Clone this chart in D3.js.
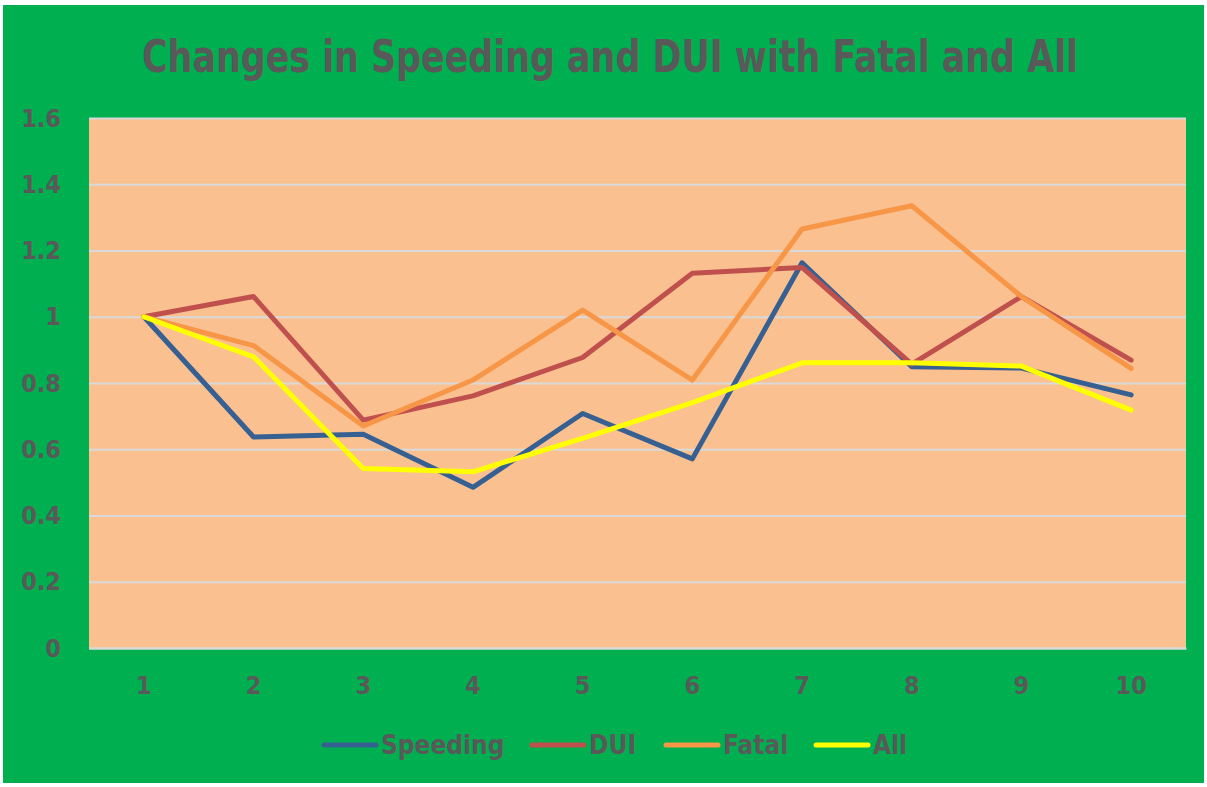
<!DOCTYPE html>
<html>
<head>
<meta charset="utf-8">
<script src="https://cdn.jsdelivr.net/npm/d3@7"></script>
<style>
  body { margin: 0; background: #fff; }
  svg text { font-family: "Liberation Sans Narrow", "DejaVu Sans Condensed", "Roboto", sans-serif; font-weight: bold; fill: #595959; }
</style>
</head>
<body>
<svg width="1207" height="787"></svg>
<script>
const categories = [1, 2, 3, 4, 5, 6, 7, 8, 9, 10];
const speeding = [1.0, 0.637, 0.645, 0.485, 0.708, 0.571, 1.163, 0.849, 0.845, 0.764];
const dui      = [1.0, 1.061, 0.688, 0.761, 0.877, 1.131, 1.149, 0.857, 1.061, 0.869];
const fatal    = [1.0, 0.913, 0.670, 0.809, 1.020, 0.809, 1.265, 1.335, 1.061, 0.844];
const all      = [1.0, 0.879, 0.542, 0.532, 0.633, 0.741, 0.861, 0.861, 0.851, 0.718];
const yTicks = [0, 0.2, 0.4, 0.6, 0.8, 1, 1.2, 1.4, 1.6];
const seriesNames = ["Speeding", "DUI", "Fatal", "All"];
const seriesValues = [speeding, dui, fatal, all];
const seriesColors = ["#376092", "#c0504d", "#f79646", "#ffff00"];

const svg = d3.select("svg"),
      plot = {left: 89, right: 1186, top: 118, bottom: 648};

// green chart background
svg.append("rect")
  .attr("x", 3).attr("y", 5)
  .attr("width", 1201).attr("height", 778)
  .attr("fill", "#00b050");

// title squeezed to the narrow width of the original face
svg.append("text")
  .attr("x", 142)
  .attr("y", 72)
  .attr("textLength", 936)
  .attr("lengthAdjust", "spacingAndGlyphs")
  .style("font-size", "44px")
  .text("Changes in Speeding and DUI with Fatal and All");

const x = d3.scaleBand()
  .domain(categories)
  .range([plot.left, plot.right]);

const y = d3.scaleLinear()
  .domain([0, 1.6])
  .range([plot.bottom, plot.top]);

svg.append("rect")
  .attr("x", plot.left).attr("y", plot.top)
  .attr("width", plot.right - plot.left)
  .attr("height", plot.bottom - plot.top)
  .attr("fill", "#fac090");

// gridlines
svg.append("g")
  .attr("transform", `translate(${plot.left},0)`)
  .call(d3.axisLeft(y).tickValues(yTicks).tickSize(-(plot.right - plot.left)).tickFormat(""))
  .call(g => g.select(".domain").remove())
  .selectAll("line")
  .attr("stroke", "#d9d9d9")
  .attr("stroke-width", 2);

// y tick labels
svg.append("g")
  .attr("transform", `translate(61,0)`)
  .call(d3.axisLeft(y).tickValues(yTicks).tickSize(0).tickPadding(0).tickFormat(d => d3.format("")(d)))
  .call(g => g.select(".domain").remove())
  .selectAll("text")
  .style("font-size", "25px")
  .attr("fill", "#595959");

// x tick labels
svg.append("g")
  .attr("transform", `translate(0,${plot.bottom})`)
  .call(d3.axisBottom(x).tickSize(0).tickPadding(28))
  .call(g => g.select(".domain").attr("stroke", "#d9d9d9").attr("stroke-width", 2))
  .selectAll("text")
  .style("font-size", "25px")
  .attr("fill", "#595959");

const line = d3.line()
  .x((d, i) => x(categories[i]) + x.bandwidth() / 2)
  .y(d => y(d));

seriesValues.forEach((vals, i) => {
  svg.append("path")
    .datum(vals)
    .attr("d", line)
    .attr("fill", "none")
    .attr("stroke", seriesColors[i])
    .attr("stroke-width", 5)
    .attr("stroke-linejoin", "round")
    .attr("stroke-linecap", "round");
});

// legend
const legendX = [322, 530, 664, 814];
const legend = svg.append("g").attr("transform", "translate(0,745)");
seriesNames.forEach((name, i) => {
  const row = legend.append("g").attr("transform", `translate(${legendX[i]},0)`);
  row.append("line")
    .attr("x1", 2).attr("x2", 54)
    .attr("stroke", seriesColors[i])
    .attr("stroke-width", 5)
    .attr("stroke-linecap", "round");
  row.append("text")
    .attr("x", 59)
    .attr("y", 9)
    .style("font-size", "26px")
    .text(name);
});
</script>
</body>
</html>
